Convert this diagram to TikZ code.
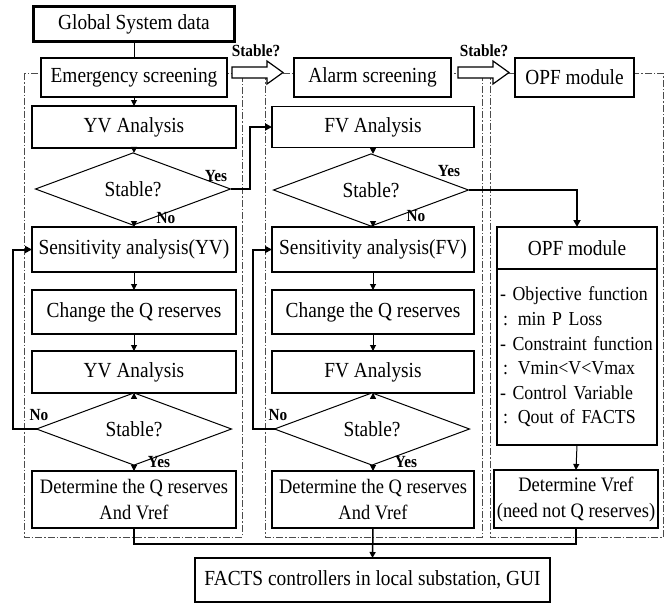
\documentclass[tikz,border=0pt]{standalone}
\usepackage{fontspec}
\setmainfont[FakeStretch=0.9]{Liberation Serif}
\usetikzlibrary{shapes.geometric,arrows.meta,calc}
\begin{document}
\begin{tikzpicture}[x=1pt,y=-1pt,
  box/.style={draw, line width=1.2pt, fill=white, inner sep=0pt, outer sep=0pt,
    font=\fontsize{21.5}{26}\selectfont, align=center},
  dia/.style={draw, diamond, line width=1pt, fill=white, inner sep=0pt, outer sep=0pt,
    font=\fontsize{21.5}{26}\selectfont, minimum width=195pt, minimum height=42pt},
  conn/.style={line width=1pt, -{Triangle[length=6pt,width=6pt]}},
  thickconn/.style={line width=2pt, -{Triangle[length=7pt,width=7pt]}},
  plainline/.style={line width=1pt},
  midline/.style={line width=1.7pt},
  lbl/.style={font=\bfseries\fontsize{17}{17}\selectfont, inner sep=0pt},
  region/.style={draw=black!70, line width=0.9pt, dash pattern=on 7pt off 2pt on 1.5pt off 2pt},
  hollow/.style={draw, line width=1.2pt, fill=white, line join=miter}
]
\useasboundingbox (0,0) rectangle (672,603);

% dash-dot regions
\draw[region] (24,73) rectangle (242,537);
\draw[region] (265,73) rectangle (482,537);
\draw[region] (490,73) rectangle (663,537);

% column 1
\node[box, line width=2.5pt, minimum width=201pt, minimum height=35pt] (gsd) at (134,24) {Global System data};
\node[box, minimum width=186pt, minimum height=39pt] (emg) at (134,77.5) {Emergency screening};
\node[box, minimum width=204pt, minimum height=42pt] (yv1) at (134,127) {YV Analysis};
\node[dia] (d1) at (133,189) {Stable?};
\node[box, minimum width=204pt, minimum height=45pt] (sens1) at (134,249.5) {Sensitivity analysis(YV)};
\node[box, minimum width=204pt, minimum height=44pt] (chg1) at (134,312) {Change the Q reserves};
\node[box, minimum width=204pt, minimum height=42pt] (yv2) at (134,372) {YV Analysis};
\node[dia] (d2) at (134,429) {Stable?};
\node[box, minimum width=204pt, minimum height=57pt, font=\fontsize{20.5}{26}\selectfont] (det1) at (134,499.5) {Determine the Q reserves\\And Vref};

% column 2
\node[box, minimum width=157pt, minimum height=39pt] (alarm) at (372.5,77.5) {Alarm screening};
\node[box, minimum width=202pt, minimum height=41pt] (fv1) at (373,127) {FV Analysis};
\node[dia] (d3) at (371,190) {Stable?};
\node[box, minimum width=202pt, minimum height=45pt] (sens2) at (373,249.5) {Sensitivity analysis(FV)};
\node[box, minimum width=202pt, minimum height=44pt] (chg2) at (373,312) {Change the Q reserves};
\node[box, minimum width=202pt, minimum height=42pt] (fv2) at (373,372) {FV Analysis};
\node[dia] (d4) at (372,429) {Stable?};
\node[box, minimum width=202pt, minimum height=57pt, font=\fontsize{20.5}{26}\selectfont] (det2) at (373,499.5) {Determine the Q reserves\\And Vref};

% column 3
\node[box, minimum width=119pt, minimum height=39pt] (opf0) at (574.5,77.5) {OPF module};
\node[box, minimum width=160pt, minimum height=42pt] (opfh) at (577,248) {OPF module};
\node[box, minimum width=160pt, minimum height=176pt, text width=154pt, align=left,
  font=\fontsize{19.8}{24.6}\selectfont] (opfb) at (577,357)
  {- Objective function\\\hspace*{3pt}: min P Loss\\- Constraint function\\\hspace*{3pt}: Vmin<V<Vmax\\- Control Variable\\\hspace*{3pt}: Qout of FACTS};
\node[box, minimum width=164pt, minimum height=58pt, font=\fontsize{20.5}{26}\selectfont] (detv) at (576,499) {Determine Vref\\(need not Q reserves)};

% bottom
\node[box, minimum width=355pt, minimum height=44pt] (facts) at (372.5,580) {FACTS controllers in local substation, GUI};

% hollow arrows
\draw[hollow] (232,67) -- (267,67) -- (267,61) -- (283,72.5) -- (267,84) -- (267,78) -- (232,78) -- cycle;
\draw[hollow] (458,67) -- (493,67) -- (493,61) -- (509,72.5) -- (493,84) -- (493,78) -- (458,78) -- cycle;
\node[lbl] (s1) at (256,51) {Stable?};
\node[lbl] (s2) at (484,51) {Stable?};

% connectors column 1
\draw[plainline] (gsd.south) -- (emg.north);
\draw[conn] (emg.south) -- (yv1.north);
\draw[conn] (yv1.south) -- (d1.north -| yv1.south);
\draw[conn] (d1.south -| sens1.north) -- (sens1.north);
\draw[conn] (sens1.south) -- (chg1.north);
\draw[conn] (chg1.south) -- (yv2.north);
\draw[conn] (yv2.south) -- (d2.north);
\draw[conn] (d2.south) -- (det1.north);

% connectors column 2
\draw[conn] (fv1.south) -- (fv1.south |- d3.north);
\draw[conn] (fv1.south |- d3.south) -- (sens2.north);
\draw[conn] (sens2.south) -- (chg2.north);
\draw[conn] (chg2.south) -- (fv2.north);
\draw[conn] (fv2.south) -- (fv2.south |- d4.north);
\draw[conn] (fv2.south |- d4.south) -- (det2.north);

% yes / no paths
\coordinate (y1) at (250,189);
\draw[thickconn] (d1.east) -- (y1) |- (fv1.west);
\draw[thickconn] (d3.east) -| (opfh.north);
\coordinate (n1) at (13,429);
\draw[thickconn] (d2.west) -- (n1) |- (sens1.west);
\coordinate (n2) at (253,429);
\draw[thickconn] (d4.west) -- (n2) |- (sens2.west);

% column 3 connector
\draw[conn] (opfb.south) -- (detv.north);

% bottom merge
\coordinate (m1) at (134,544);
\draw[midline] (det1.south) -- (m1) -| (detv.south);
\draw[conn, line width=1.5pt] (det2.south) -- (facts.north);

% labels
\node[lbl] (l1) at (216,176) {Yes};
\node[lbl] (l2) at (166,218) {No};
\node[lbl] (l3) at (449,171) {Yes};
\node[lbl] (l4) at (416,216) {No};
\node[lbl] (l5) at (39,415) {No};
\node[lbl] (l6) at (159,462) {Yes};
\node[lbl] (l7) at (278,415) {No};
\node[lbl] (l8) at (406,462) {Yes};
\end{tikzpicture}
\end{document}
